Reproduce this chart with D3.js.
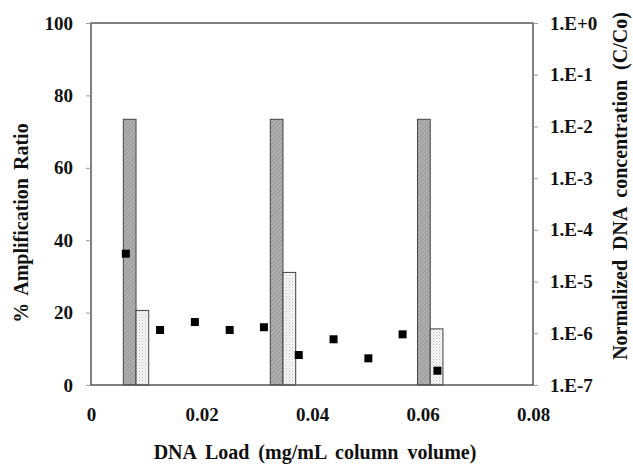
<!DOCTYPE html>
<html>
<head>
<meta charset="utf-8">
<script src="https://cdn.jsdelivr.net/npm/d3@7"></script>
<style>
  body { margin: 0; background: #fff; }
  text { font-family: "Liberation Serif", "Times New Roman", serif; font-weight: bold; fill: #111; }
</style>
</head>
<body>
<div id="chart"></div>
<script>
// bar groups: x position where the two bars meet
const groupX = [0.00815, 0.03475, 0.0614];
const darkBars = [73.4, 73.4, 73.4];
const lightBars = [20.6, 31.1, 15.5];
const barWidth = 0.0023;

// normalized DNA concentration (right axis, log)
const pointX = [0.0063, 0.0125, 0.0188, 0.0251, 0.0313, 0.0376, 0.0439, 0.0502, 0.0564, 0.0627];
const pointY = [3.46e-5, 1.16e-6, 1.65e-6, 1.16e-6, 1.31e-6, 3.8e-7, 7.66e-7, 3.28e-7, 9.55e-7, 1.89e-7];

const xTicks = [0, 0.02, 0.04, 0.06, 0.08];
const xTickLabels = ["0", "0.02", "0.04", "0.06", "0.08"];
const leftTicks = [0, 20, 40, 60, 80, 100];
const rightTicks = [1e-7, 1e-6, 1e-5, 1e-4, 1e-3, 1e-2, 1e-1, 1];
const rightTickLabels = ["1.E-7", "1.E-6", "1.E-5", "1.E-4", "1.E-3", "1.E-2", "1.E-1", "1.E+0"];

const width = 633, height = 466;
const margin = { top: 23, right: 100, bottom: 81, left: 91 };
const innerW = 533 - margin.left;
const innerH = 385 - margin.top;

const svg = d3.select("#chart").append("svg")
  .attr("width", width)
  .attr("height", height);

// patterns
const defs = svg.append("defs");
const hatch = defs.append("pattern")
  .attr("id", "hatch")
  .attr("patternUnits", "userSpaceOnUse")
  .attr("width", 3).attr("height", 3)
  .attr("patternTransform", "rotate(45)");
hatch.append("rect").attr("width", 3).attr("height", 3).attr("fill", "#b0b0b0");
hatch.append("line").attr("x1", 0).attr("y1", 0).attr("x2", 0).attr("y2", 3)
  .attr("stroke", "#858585").attr("stroke-width", 1.2);

const dots = defs.append("pattern")
  .attr("id", "dots")
  .attr("patternUnits", "userSpaceOnUse")
  .attr("width", 3).attr("height", 3);
dots.append("rect").attr("width", 3).attr("height", 3).attr("fill", "#fafafa");
dots.append("rect").attr("x", 0).attr("y", 0).attr("width", 1).attr("height", 1).attr("fill", "#b8b8b8");
dots.append("rect").attr("x", 1.5).attr("y", 1.5).attr("width", 1).attr("height", 1).attr("fill", "#c8c8c8");

const g = svg.append("g").attr("transform", `translate(${margin.left},${margin.top})`);

const x = d3.scaleLinear().domain([0, 0.08]).range([0, innerW]);
const yLeft = d3.scaleLinear().domain([0, 100]).range([innerH, 0]);
const yRight = d3.scaleLog().domain([1e-7, 1]).range([innerH, 0]);

// bars
g.selectAll("rect.dark")
  .data(darkBars)
  .join("rect")
  .attr("class", "dark")
  .attr("x", (d, i) => x(groupX[i] - barWidth))
  .attr("y", d => yLeft(d))
  .attr("width", (d, i) => x(groupX[i]) - x(groupX[i] - barWidth))
  .attr("height", d => innerH - yLeft(d))
  .attr("fill", "url(#hatch)")
  .attr("stroke", "#444")
  .attr("stroke-width", 1);

g.selectAll("rect.light")
  .data(lightBars)
  .join("rect")
  .attr("class", "light")
  .attr("x", (d, i) => x(groupX[i]))
  .attr("y", d => yLeft(d))
  .attr("width", (d, i) => x(groupX[i] + barWidth) - x(groupX[i]))
  .attr("height", d => innerH - yLeft(d))
  .attr("fill", "url(#dots)")
  .attr("stroke", "#444")
  .attr("stroke-width", 1);

// frame
g.append("rect")
  .attr("width", innerW).attr("height", innerH)
  .attr("fill", "none").attr("stroke", "#555").attr("stroke-width", 1.5);

// points
const sq = 8;
g.selectAll("rect.pt")
  .data(pointX)
  .join("rect")
  .attr("class", "pt")
  .attr("x", d => x(d) - sq / 2)
  .attr("y", (d, i) => yRight(pointY[i]) - sq / 2)
  .attr("width", sq).attr("height", sq)
  .attr("fill", "#000");

// axes
const leftAxis = g.append("g")
  .call(d3.axisLeft(yLeft).tickValues(leftTicks).tickSize(5).tickPadding(13));
const rightAxis = g.append("g")
  .attr("transform", `translate(${innerW},0)`)
  .call(d3.axisRight(yRight).tickValues(rightTicks).tickSize(5).tickPadding(12)
    .tickFormat((d, i) => rightTickLabels[i]));
const bottomAxis = g.append("g")
  .attr("transform", `translate(0,${innerH})`)
  .call(d3.axisBottom(x).tickValues(xTicks).tickSize(0).tickPadding(23)
    .tickFormat((d, i) => xTickLabels[i]));

[leftAxis, rightAxis, bottomAxis].forEach(a => {
  a.select(".domain").remove();
  a.selectAll(".tick line").attr("stroke", "#999");
  a.selectAll(".tick text")
    .style("font-family", '"Liberation Serif", serif')
    .style("font-weight", "bold")
    .style("font-size", "19px")
    .attr("fill", "#111");
});

// titles
svg.append("text")
  .attr("transform", `translate(28,223) rotate(-90)`)
  .attr("text-anchor", "middle")
  .style("font-size", "20px")
  .style("word-spacing", "3px")
  .text("% Amplification Ratio");

svg.append("text")
  .attr("transform", `translate(627,186) rotate(-90)`)
  .attr("text-anchor", "middle")
  .style("font-size", "20px")
  .style("word-spacing", "5px")
  .text("Normalized DNA concentration (C/Co)");

svg.append("text")
  .attr("x", 315)
  .attr("y", 459)
  .attr("text-anchor", "middle")
  .style("font-size", "20px")
  .style("word-spacing", "4px")
  .text("DNA Load (mg/mL column volume)");
</script>
</body>
</html>
